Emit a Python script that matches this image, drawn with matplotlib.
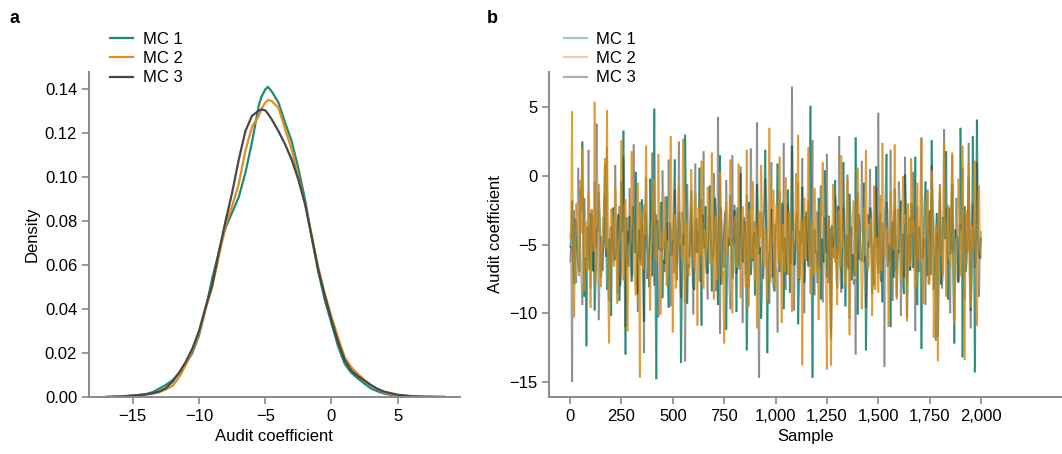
import numpy as np
import matplotlib
matplotlib.use("Agg")
import matplotlib.pyplot as plt
from matplotlib.collections import LineCollection
from matplotlib.lines import Line2D
from matplotlib.ticker import FuncFormatter, FormatStrFormatter

plt.rcParams['font.family'] = ['Liberation Sans', 'DejaVu Sans']
plt.rcParams['font.size'] = 12

# ---- panel a: density of the audit coefficient for each chain ----
kde_x = [-17, -16, -15, -14, -13.5, -13, -12.5, -12, -11.5, -11, -10.5, -10,
         -9.5, -9, -8.5, -8, -7.5, -7, -6.5, -6, -5.5, -5.3, -5, -4.8, -4.5,
         -4, -3.5, -3, -2.5, -2, -1.5, -1, -0.5, 0, 0.5, 1, 1.5, 2, 2.5, 3,
         3.5, 4, 5, 6, 7, 8.5]
kde_mc1 = [0.0, 0.0002, 0.0006, 0.0013, 0.0022, 0.0038, 0.0055, 0.0076, 0.011,
           0.015, 0.020, 0.028, 0.040, 0.054, 0.066, 0.077, 0.084, 0.091, 0.102,
           0.116, 0.1324, 0.1365, 0.1400, 0.1412, 0.1390, 0.1340, 0.1248, 0.1164,
           0.104, 0.090, 0.073, 0.057, 0.044, 0.0335, 0.023, 0.015, 0.011, 0.0084,
           0.006, 0.0038, 0.0025, 0.0015, 0.0005, 0.0002, 0.0001, 0.0]
kde_mc2 = [0.0, 0.0002, 0.0006, 0.0011, 0.0015, 0.0022, 0.0035, 0.0050, 0.009,
           0.0145, 0.021, 0.029, 0.040, 0.050, 0.064, 0.078, 0.087, 0.097, 0.112,
           0.123, 0.1278, 0.1310, 0.1340, 0.1352, 0.1347, 0.1316, 0.1220, 0.1125,
           0.100, 0.088, 0.074, 0.059, 0.047, 0.0365, 0.027, 0.018, 0.0135, 0.0104,
           0.0078, 0.0053, 0.0035, 0.0020, 0.0008, 0.0003, 0.0001, 0.0]
kde_mc3 = [0.0, 0.0002, 0.0006, 0.0012, 0.0017, 0.0025, 0.0040, 0.0069, 0.011,
           0.016, 0.022, 0.030, 0.041, 0.051, 0.066, 0.080, 0.093, 0.108, 0.121,
           0.128, 0.1303, 0.1309, 0.1305, 0.1290, 0.1263, 0.1210, 0.1150, 0.1080,
           0.099, 0.088, 0.073, 0.058, 0.046, 0.035, 0.025, 0.0168, 0.012, 0.0095,
           0.0073, 0.0053, 0.0036, 0.0024, 0.0010, 0.0004, 0.0001, 0.0]

# ---- panel b: trace of the chains, thinned to every 5th sample ----
# *_a holds samples 0, 10, 20, ..., 2000 ; *_b holds samples 5, 15, ..., 1995
trace_mc1_a = [
    -5.2, -1.8, -7.9, -3.4, -6.6, -0.9, 2.5, -8.8, -12.4, -4.1,
    -2.7, -6.9, -9.8, -3.9, -1.2, -7.4, -5.5, 0.8, -8.3, -4.6,
    -10.2, -2.3, -6.1, -3.6, -9.1, -0.4, 3.3, -13.0, -5.9, -2.9,
    -7.7, -4.4, 0.3, -8.6, -6.2, -1.7, -10.6, -3.1, -5.8, -0.2,
    -7.3, 4.9, -14.8, -4.8, -2.1, -8.9, -6.4, -1.5, -9.6, -3.8,
    -5.1, 1.2, -7.6, -2.6, -13.6, -4.2, 3.0, -9.3, -6.7, -1.1,
    -8.1, -3.3, -5.6, 0.6, -10.9, -4.9, -2.2, -7.1, -0.7, -8.4,
    -5.3, -2.8, -9.4, 1.5, -6.8, -3.7, -11.2, -4.5, -1.4, -7.5,
    -2.5, -9.9, -5.0, 0.2, -6.3, -3.5, -12.7, -1.9, -7.2, -4.7,
    -8.7, -0.6, -5.7, -10.4, -3.2, 1.9, -12.9, -6.0, -2.4, -8.0,
    -4.3, 0.9, -7.0, -2.0, -9.7, -5.4, -1.0, -8.5, 2.2, -6.5,
    -3.0, -10.8, -4.0, -0.8, -7.8, -2.6, -6.6, 5.1, -14.7, -3.9,
    -5.5, -1.6, -9.0, -4.6, 0.4, -7.4, -2.9, -11.5, -5.2, -0.3,
    -8.2, -3.4, -6.9, 1.0, -9.5, -4.4, -1.3, -7.6, -5.9, 2.8,
    -10.1, -3.6, -6.2, -0.5, -12.7, -4.8, -2.3, -8.6, -5.0, 0.7,
    -7.1, -2.7, -9.2, -4.1, 1.6, -6.4, -11.0, -3.3, -0.9, -8.8,
    -5.6, -1.8, -7.9, 0.1, -10.3, -4.2, -2.0, -6.7, 1.4, -9.4,
    -3.8, -12.6, -5.3, -0.4, -7.3, -2.5, 2.6, -8.3, -4.9, -11.7,
    -1.2, -6.0, -3.1, 1.8, -9.0, -5.7, -0.6, -12.2, -4.5, -7.7,
    3.5, -13.2, -2.2, -6.3, -0.1, -9.8, 2.9, -14.3, 4.1, -5.8,
    -4.5]
trace_mc1_b = [
    -4.8, -6.2, -3.1, -5.5, -7.0, -2.6, -4.3, -5.9, -3.7, -6.8,
    -2.9, -5.1, -7.4, -4.0, -3.3, -6.5, -5.0, -2.4, -7.8, -4.6,
    -3.5, -6.0, -5.3, -2.8, -7.2, -4.1, -5.7, -3.0, -6.6, -4.9,
    -2.2, -5.6, -7.5, -3.9, -4.4, -6.3, -2.7, -5.2, -8.1, -3.6,
    -4.7, -6.9, -3.2, -5.4, -1.9, -6.1, -4.2, -7.3, -3.4, -5.8,
    -2.5, -6.7, -4.5, -3.8, -7.7, -5.0, -2.1, -6.4, -4.0, -5.5,
    -8.3, -3.1, -4.9, -6.0, -2.8, -5.3, -7.1, -3.6, -4.4, -6.2,
    -1.6, -5.7, -3.3, -7.9, -4.8, -2.6, -6.5, -5.1, -3.9, -7.0,
    -4.3, -2.3, -6.8, -5.6, -3.0, -4.6, -8.0, -2.9, -5.9, -4.1,
    -6.6, -3.5, -5.2, -7.6, -2.4, -4.7, -6.1, -3.7, -5.4, -8.4,
    -3.2, -5.0, -6.9, -2.0, -4.5, -7.2, -3.8, -5.8, -4.2, -6.4,
    -2.7, -7.5, -4.9, -3.4, -6.0, -5.3, -1.8, -6.7, -4.0, -5.6,
    -7.8, -3.1, -4.6, -6.3, -2.5, -5.1, -7.0, -3.6, -4.8, -6.1,
    -2.2, -5.5, -8.2, -3.9, -4.3, -6.8, -3.0, -5.7, -7.3, -4.4,
    -2.8, -6.2, -4.9, -3.3, -7.7, -5.2, -2.6, -6.5, -4.1, -5.9,
    -3.5, -7.1, -4.7, -2.1, -6.6, -5.0, -3.8, -7.4, -4.2, -5.4,
    -2.9, -6.0, -8.6, -3.2, -4.5, -6.9, -2.4, -5.3, -7.6, -3.7,
    -4.8, -6.4, -2.0, -5.8, -3.4, -7.2, -4.0, -6.7, -2.7, -5.6,
    -7.9, -3.0, -4.6, -6.1, -2.3, -5.1, -7.5, -3.9, -4.4, -6.3,
    -2.6, -5.5, -7.0, -3.5, -4.9, -6.8, -3.1, -5.2, -4.3, -6.0]
trace_mc2_a = [
    -4.6, 4.7, -10.3, -2.0, -7.1, -0.3, 2.0, -8.4, -5.2, -1.1,
    -9.6, -3.5, 5.4, -6.8, -0.6, -8.1, -3.0, 1.3, 4.8, -12.2,
    -2.4, -6.5, -0.9, -9.3, -4.3, 2.6, -7.6, -1.7, -11.3, -5.0,
    1.8, -3.8, -8.7, -0.5, -14.7, -4.7, -2.1, 2.2, -7.0, -9.8,
    -3.2, -0.2, -6.2, 1.6, -10.1, -4.1, -1.5, -8.0, -5.6, 2.9,
    -11.4, -2.8, -6.9, -0.7, -4.5, 2.7, -9.2, -3.4, -7.3, 0.5,
    -5.4, -1.3, -10.9, -3.7, 1.1, -8.2, -4.9, -0.8, -6.4, 1.7,
    -9.0, -2.9, -5.9, 0.3, -7.8, -12.2, -1.9, -4.0, 1.2, -10.0,
    -3.1, -6.7, 0.9, -8.9, -2.2, -5.3, 1.9, -9.5, -4.4, -0.4,
    -7.5, -11.1, -2.6, 0.8, -6.1, -3.9, -9.1, 3.5, -5.1, -1.0,
    -8.3, -3.6, 1.4, -10.7, -5.8, -0.1, -7.2, -2.7, -9.9, -4.2,
    0.2, 3.0, -6.6, -13.8, -1.6, -4.8, 2.1, -8.6, -3.3, -0.9,
    -7.0, -10.5, -2.0, 1.0, -5.7, -14.1, -3.0, -13.8, -0.6, -6.3,
    -9.4, -2.5, 1.5, -5.2, -8.0, -0.3, -11.6, -4.3, -1.8, -7.4,
    0.6, -5.5, -9.7, -2.3, 1.9, -6.8, -3.5, -10.2, -0.7, -4.6,
    -8.5, -1.4, 2.4, -6.0, -3.8, -11.0, -1.1, -5.0, 2.3, -9.0,
    -4.0, -7.7, 0.0, -2.8, -10.6, -5.9, 1.3, -3.2, -8.2, -0.5,
    -6.2, 2.7, -9.3, -4.4, -1.2, -7.9, 0.4, -11.8, -3.6, -13.5,
    -0.8, -5.6, 2.5, -8.8, -2.1, -6.6, 1.7, -10.8, -4.7, -0.2,
    -7.3, 2.2, -13.4, -2.9, 0.9, -9.6, -5.3, 1.1, -10.9, -0.7,
    -6.0]
trace_mc2_b = [
    -3.9, -6.4, -5.0, -2.7, -7.3, -4.2, -5.8, -3.3, -6.9, -4.6,
    -2.4, -5.5, -7.7, -3.8, -4.9, -6.2, -3.0, -5.3, -8.0, -4.1,
    -2.9, -6.6, -4.4, -5.9, -3.5, -7.1, -2.2, -5.1, -6.3, -4.7,
    -3.2, -7.5, -4.0, -5.6, -2.6, -6.8, -4.3, -3.6, -7.0, -5.2,
    -1.9, -6.0, -4.8, -3.1, -7.9, -5.4, -2.8, -6.5, -4.5, -3.7,
    -5.7, -8.2, -3.4, -4.9, -6.1, -2.5, -5.0, -7.2, -4.2, -3.0,
    -6.7, -4.6, -2.3, -5.8, -7.4, -3.9, -5.3, -2.0, -6.4, -4.4,
    -3.3, -7.6, -5.1, -4.0, -6.9, -2.7, -5.6, -3.8, -7.1, -4.7,
    -2.9, -6.2, -4.1, -5.9, -3.4, -8.1, -4.8, -2.4, -6.0, -5.2,
    -3.6, -7.3, -4.5, -2.8, -6.6, -5.0, -3.1, -7.8, -4.3, -5.7,
    -2.1, -6.3, -4.9, -3.5, -7.0, -5.5, -2.6, -6.8, -4.0, -3.7,
    -5.4, -7.5, -3.2, -4.6, -6.1, -2.3, -5.8, -4.2, -7.2, -3.0,
    -6.5, -4.4, -2.9, -5.1, -7.9, -3.9, -4.7, -6.0, -2.5, -5.3,
    -3.4, -6.7, -4.1, -5.6, -2.8, -7.4, -4.8, -3.3, -6.2, -5.0,
    -2.2, -5.9, -7.1, -3.8, -4.3, -6.4, -3.1, -5.2, -8.3, -4.5,
    -3.6, -6.9, -2.7, -5.7, -4.0, -7.0, -3.0, -5.4, -6.3, -2.4,
    -4.9, -7.7, -3.5, -5.0, -2.0, -6.6, -4.2, -3.7, -7.3, -5.5,
    -2.9, -6.1, -4.6, -3.2, -7.8, -5.1, -2.6, -6.8, -4.4, -3.9,
    -5.8, -7.2, -3.3, -4.7, -6.0, -2.3, -5.3, -7.5, -4.1, -3.0,
    -6.4, -4.8, -2.5, -5.6, -7.1, -3.6, -4.3, -6.7, -3.8, -5.2]
trace_mc3_a = [
    -6.3, -15.0, -2.5, -7.8, 0.6, -4.9, -9.4, -1.6, -5.8, 1.9,
    -8.2, -3.0, -0.4, 3.8, -10.5, -4.4, -6.9, -1.3, 2.1, -9.1,
    -3.7, -5.5, 0.8, -8.6, -2.2, -6.4, 1.4, -11.0, -4.0, -0.9,
    -7.3, 2.3, -5.0, -9.9, -1.9, -3.6, -12.9, -0.1, -6.1, -4.2,
    1.7, -8.0, -2.8, -10.3, -5.3, 0.4, -7.0, -3.4, 1.2, -9.5,
    -4.7, -1.0, -6.5, 2.5, -8.9, -3.1, -13.5, -0.6, -5.9, -2.4,
    -10.1, 0.9, -4.5, -7.6, -1.7, 1.8, -6.0, -9.0, -2.9, -5.2,
    0.2, -8.4, 4.3, -11.5, -3.8, -6.7, -0.3, -4.8, -9.7, 1.5,
    -2.1, -7.1, -5.6, 0.7, -10.7, -3.3, -1.4, -8.1, 2.0, -6.2,
    -4.1, 3.9, -14.7, -2.6, -7.5, -0.2, -5.4, -9.3, 1.0, -3.5,
    -6.8, -11.4, -1.1, -4.6, 2.4, -8.3, -2.0, -5.7, 6.5, -9.8,
    -3.9, -0.5, -7.2, 1.3, -10.0, -4.3, -1.8, -6.6, 2.6, -8.7,
    -2.7, -5.0, -0.7, -9.2, -3.2, 1.6, -7.4, -11.9, -4.9, -1.5,
    -6.0, 2.9, -8.5, -2.3, -5.5, 0.1, -10.4, -3.7, -7.9, -13.0,
    -1.2, -4.4, 1.1, -6.3, -9.6, -2.8, 0.5, -5.1, -8.0, -0.8,
    4.6, -7.3, -3.4, -13.9, -1.9, -5.8, 1.9, -9.1, -2.5, -6.5,
    -0.4, -10.2, -4.2, 1.4, -7.7, -3.0, -5.9, 0.3, -11.3, -2.2,
    -6.9, 2.8, -4.6, -9.4, -1.0, -7.0, 0.8, -3.3, -12.0, -5.3,
    -0.6, -8.2, 3.4, -2.4, -6.4, -10.0, 1.5, -4.8, -1.6, -7.8,
    -3.5, 0.6, -9.0, -5.6, 2.4, -11.1, -2.0, -6.7, 1.0, -8.8,
    -4.0]
trace_mc3_b = [
    -5.1, -3.4, -6.7, -4.2, -2.9, -7.3, -5.6, -3.8, -6.1, -4.5,
    -2.5, -7.0, -5.2, -3.6, -6.4, -4.8, -2.1, -5.9, -7.6, -3.9,
    -4.6, -6.2, -3.1, -5.4, -8.0, -4.0, -2.7, -6.8, -5.0, -3.3,
    -7.2, -4.4, -5.8, -2.4, -6.5, -4.9, -3.7, -7.5, -5.3, -2.8,
    -6.0, -4.1, -3.5, -7.8, -5.5, -2.2, -6.3, -4.7, -3.0, -5.7,
    -7.1, -3.9, -4.3, -6.6, -2.6, -5.1, -7.4, -3.2, -4.8, -6.1,
    -2.0, -5.6, -4.0, -7.7, -3.4, -5.2, -6.9, -2.9, -4.6, -5.9,
    -3.6, -7.0, -4.4, -2.3, -6.2, -5.4, -3.1, -7.9, -4.9, -5.0,
    -2.7, -6.5, -3.8, -5.7, -4.2, -7.2, -2.5, -6.0, -4.7, -3.3,
    -5.3, -8.1, -3.9, -4.5, -6.3, -2.1, -5.8, -4.0, -7.4, -3.5,
    -6.8, -4.3, -2.8, -5.5, -7.1, -3.7, -4.9, -6.4, -2.4, -5.1,
    -3.2, -7.6, -4.6, -5.9, -2.9, -6.2, -4.1, -3.4, -7.0, -5.3,
    -2.6, -6.7, -4.8, -3.0, -5.6, -7.8, -3.8, -4.4, -6.0, -2.2,
    -5.0, -7.3, -3.6, -4.2, -6.6, -2.7, -5.4, -4.7, -7.5, -3.1,
    -6.1, -4.0, -2.3, -5.8, -7.2, -3.5, -4.9, -6.5, -2.8, -5.2,
    -3.9, -7.7, -4.5, -5.5, -2.5, -6.3, -4.1, -3.3, -6.9, -5.7,
    -2.0, -5.0, -7.4, -3.8, -4.6, -6.8, -3.0, -5.3, -4.3, -7.0,
    -2.9, -6.0, -4.8, -3.4, -7.9, -5.1, -2.4, -6.4, -4.2, -3.7,
    -5.9, -7.1, -3.2, -4.9, -6.2, -2.6, -5.6, -4.4, -7.5, -3.6,
    -4.0, -6.6, -2.8, -5.4, -7.2, -3.9, -4.7, -6.1, -3.3, -5.5]

labels = ["MC 1", "MC 2", "MC 3"]
colors = ["#1f8a78", "#e08e1e", "#474747"]
trace_colors = ["#0f7f6d", "#d9890f", "#3a3a3a"]
trace_alpha = [0.68, 0.62, 0.36]
trace_z = [2, 4, 3]   # orange ends up on top of the dense core

spine_col = "#8a8a8a"


def style_axis(ax):
    for s in ["top", "right"]:
        ax.spines[s].set_visible(False)
    for s in ["left", "bottom"]:
        ax.spines[s].set_color(spine_col)
        ax.spines[s].set_linewidth(1.4)
    ax.tick_params(direction="out", length=5, width=1.2, color=spine_col,
                   labelsize=12, labelcolor="black")


def full_trace(a, b):
    vals = np.empty(len(a) + len(b))
    vals[0::2] = a
    vals[1::2] = b
    return vals


sample = np.arange(0, 2001, 5)
traces = [full_trace(trace_mc1_a, trace_mc1_b),
          full_trace(trace_mc2_a, trace_mc2_b),
          full_trace(trace_mc3_a, trace_mc3_b)]

fig = plt.figure(figsize=(10.62, 4.54), dpi=100)

# panel a
ax1 = fig.add_axes([0.0838, 0.1256, 0.349, 0.716])
for ys, c, lab in zip([kde_mc1, kde_mc2, kde_mc3], colors, labels):
    ax1.plot(kde_x, ys, color=c, lw=1.6, label=lab)
ax1.set_xlim(-18.3, 9.67)
ax1.set_ylim(0, 0.148)
ax1.set_xticks([-15, -10, -5, 0, 5])
ax1.set_yticks(np.arange(0, 0.141, 0.02))
ax1.yaxis.set_major_formatter(FormatStrFormatter('%.2f'))
ax1.set_xlabel("Audit coefficient", fontsize=12)
ax1.set_ylabel("Density", fontsize=12)
style_axis(ax1)
ax1.legend(loc="upper left", bbox_to_anchor=(0.1036, 0.9295),
           bbox_transform=fig.transFigure, frameon=False, borderpad=0,
           borderaxespad=0, handlelength=1.4, handletextpad=0.55,
           labelspacing=0.25, fontsize=12)

# panel b: each step drawn as its own segment so overlaps build up
ax2 = fig.add_axes([0.517, 0.1256, 0.483, 0.716])
for ys, c, a, z in zip(traces, trace_colors, trace_alpha, trace_z):
    pts = np.column_stack([sample, ys])
    segs = np.stack([pts[:-1], pts[1:]], axis=1)
    ax2.add_collection(LineCollection(segs, colors=c, linewidths=1.45,
                                      alpha=a, zorder=z))
ax2.set_xlim(-102, 2394)
ax2.set_ylim(-16.09, 7.57)
ax2.set_xticks(np.arange(0, 2001, 250))
ax2.set_yticks([-15, -10, -5, 0, 5])
ax2.xaxis.set_major_formatter(FuncFormatter(lambda v, p: f"{int(v):,}"))
ax2.set_xlabel("Sample", fontsize=12)
ax2.set_ylabel("Audit coefficient", fontsize=12)
style_axis(ax2)
handles = [Line2D([], [], color=c, lw=1.6, alpha=0.4) for c in trace_colors]
ax2.legend(handles, labels, loc="upper left", bbox_to_anchor=(0.531, 0.9295),
           bbox_transform=fig.transFigure, frameon=False, borderpad=0,
           borderaxespad=0, handlelength=1.4, handletextpad=0.55,
           labelspacing=0.25, fontsize=12)

fig.text(0.009, 0.95, "a", fontsize=13, fontweight="bold")
fig.text(0.458, 0.95, "b", fontsize=13, fontweight="bold")

fig.savefig("out.png", dpi=100)
